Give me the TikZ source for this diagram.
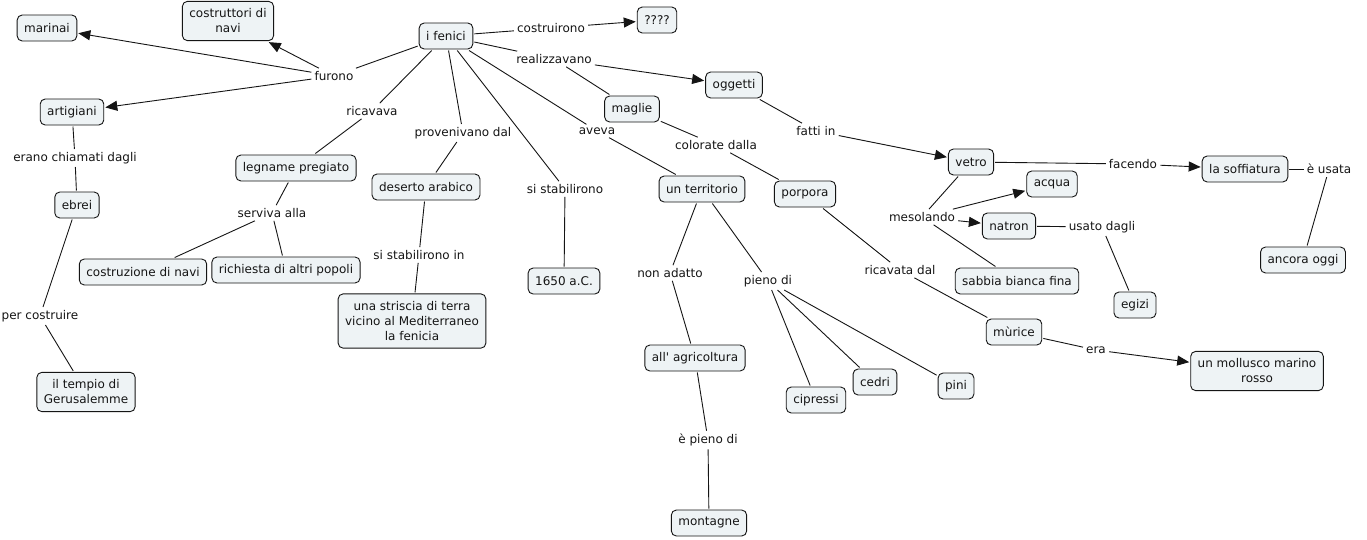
\documentclass[tikz,border=0pt]{standalone}
\usepackage{fontspec}
\setmainfont{DejaVu Sans}
\usetikzlibrary{arrows.meta}
\definecolor{boxfill}{HTML}{EEF3F5}
\definecolor{inkc}{HTML}{151515}
\tikzset{
  concept/.style={draw=inkc, line width=0.9pt, rounded corners=5pt, fill=boxfill,
    font=\fontsize{12}{15}\selectfont, text=inkc, inner xsep=7pt, inner ysep=6pt,
    minimum height=26pt, align=center, outer sep=1.5pt},
  multi/.style={inner ysep=7.5pt},
  lab/.style={font=\fontsize{12}{15}\selectfont, text=inkc, inner sep=3pt},
  ln/.style={draw=inkc, line width=0.9pt},
  arr/.style={ln, -{Triangle[length=12pt,width=10pt]}}
}
\begin{document}
\begin{tikzpicture}[x=1pt,y=-1pt]
\useasboundingbox[fill=white] (0,0) rectangle (1367,539);
% concepts
\node[concept] (marinai) at (47,28) {marinai};
\node[concept,multi] (costr) at (228,21) {costruttori di\\navi};
\node[concept] (fenici) at (446,36) {i fenici};
\node[concept] (qq) at (657,20) {????};
\node[concept] (artig) at (72,112) {artigiani};
\node[concept] (oggetti) at (734,85) {oggetti};
\node[concept] (maglie) at (632,109) {maglie};
\node[concept] (legname) at (296,168) {legname pregiato};
\node[concept] (deserto) at (426,187) {deserto arabico};
\node[concept] (ebrei) at (77,205) {ebrei};
\node[concept] (vetro) at (971,162) {vetro};
\node[concept] (soff) at (1245,169) {la soffiatura};
\node[concept] (acqua) at (1052,184) {acqua};
\node[concept] (natron) at (1009,226) {natron};
\node[concept] (territ) at (702,189) {un territorio};
\node[concept] (porpora) at (805,194) {porpora};
\node[concept] (costruz) at (143,272) {costruzione di navi};
\node[concept] (richiesta) at (286,270) {richiesta di altri popoli};
\node[concept] (anno) at (564,281) {1650 a.C.};
\node[concept] (sabbia) at (1017,281) {sabbia bianca fina};
\node[concept] (ancora) at (1303,260) {ancora oggi};
\node[concept] (egizi) at (1135,305) {egizi};
\node[concept,multi] (striscia) at (412,321) {una striscia di terra\\vicino al Mediterraneo\\la fenicia};
\node[concept,multi] (tempio) at (86,392) {il tempio di\\Gerusalemme};
\node[concept] (murice) at (1014,332) {mùrice};
\node[concept,multi] (mollusco) at (1257,371) {un mollusco marino\\rosso};
\node[concept] (agric) at (695,358) {all\textquotesingle{} agricoltura};
\node[concept] (cipressi) at (816,400) {cipressi};
\node[concept] (cedri) at (875,382) {cedri};
\node[concept] (pini) at (956,386) {pini};
\node[concept] (montagne) at (709,523) {montagne};
% linking phrases
\node[lab] (furono) at (334,76) {furono};
\node[lab] (costruirono) at (551,28) {costruirono};
\node[lab] (realizz) at (554,59) {realizzavano};
\node[lab] (ricavava) at (372,111) {ricavava};
\node[lab] (proven) at (463,133) {provenivano dal};
\node[lab] (aveva) at (597,131) {aveva};
\node[lab] (colorate) at (716,145) {colorate dalla};
\node[lab] (fatti) at (816,131) {fatti in};
\node[lab] (sistab) at (565,189) {si stabilirono};
\node[lab] (chiamati) at (75,158) {erano chiamati dagli};
\node[lab] (serviva) at (272,213) {serviva alla};
\node[lab] (sistabin) at (419,255) {si stabilirono in};
\node[lab] (facendo) at (1133,164) {facendo};
\node[lab] (usata) at (1329,169) {è usata};
\node[lab] (mesol) at (922,217) {mesolando};
\node[lab] (usato) at (1102,227) {usato dagli};
\node[lab] (nonadatto) at (670,273) {non adatto};
\node[lab] (pienodi) at (768,281) {pieno di};
\node[lab] (ricavata) at (900,270) {ricavata dal};
\node[lab] (percostr) at (40,316) {per costruire};
\node[lab] (era) at (1096,350) {era};
\node[lab] (epieno) at (708,440) {è pieno di};
% connectors
\draw[ln] (fenici) -- (furono);
\draw[arr] (furono) -- (marinai);
\draw[arr] (furono) -- (costr);
\draw[arr] (furono) -- (artig);
\draw[ln] (fenici) -- (costruirono);
\draw[arr] (costruirono) -- (qq);
\draw[ln] (fenici) -- (realizz);
\draw[arr] (realizz) -- (oggetti);
\draw[ln] (realizz) -- (maglie);
\draw[ln] (fenici) -- (ricavava);
\draw[ln] (ricavava) -- (legname);
\draw[ln] (fenici) -- (proven);
\draw[ln] (proven) -- (deserto);
\draw[ln] (fenici) -- (sistab);
\draw[ln] (sistab) -- (anno);
\draw[ln] (fenici) -- (aveva);
\draw[ln] (aveva) -- (territ);
\draw[ln] (maglie) -- (colorate);
\draw[ln] (colorate) -- (porpora);
\draw[ln] (oggetti) -- (fatti);
\draw[arr] (fatti) -- (vetro);
\draw[ln] (vetro) -- (facendo);
\draw[arr] (facendo) -- (soff);
\draw[ln] (soff) -- (usata);
\draw[ln] (usata) -- (ancora);
\draw[ln] (vetro) -- (mesol);
\draw[arr] (mesol) -- (acqua);
\draw[arr] (mesol) -- (natron);
\draw[ln] (mesol) -- (sabbia);
\draw[ln] (natron) -- (usato);
\draw[ln] (usato) -- (egizi);
\draw[ln] (porpora) -- (ricavata);
\draw[ln] (ricavata) -- (murice);
\draw[ln] (murice) -- (era);
\draw[arr] (era) -- (mollusco);
\draw[ln] (artig) -- (chiamati);
\draw[ln] (chiamati) -- (ebrei);
\draw[ln] (ebrei) -- (percostr);
\draw[ln] (percostr) -- (tempio);
\draw[ln] (legname) -- (serviva);
\draw[ln] (serviva) -- (costruz);
\draw[ln] (serviva) -- (richiesta);
\draw[ln] (deserto) -- (sistabin);
\draw[ln] (sistabin) -- (striscia);
\draw[ln] (territ) -- (nonadatto);
\draw[ln] (nonadatto) -- (agric);
\draw[ln] (agric) -- (epieno);
\draw[ln] (epieno) -- (montagne);
\draw[ln] (territ) -- (pienodi);
\draw[ln] (pienodi) -- (cipressi);
\draw[ln] (pienodi) -- (cedri);
\draw[ln] (pienodi) -- (pini);
\end{tikzpicture}
\end{document}
